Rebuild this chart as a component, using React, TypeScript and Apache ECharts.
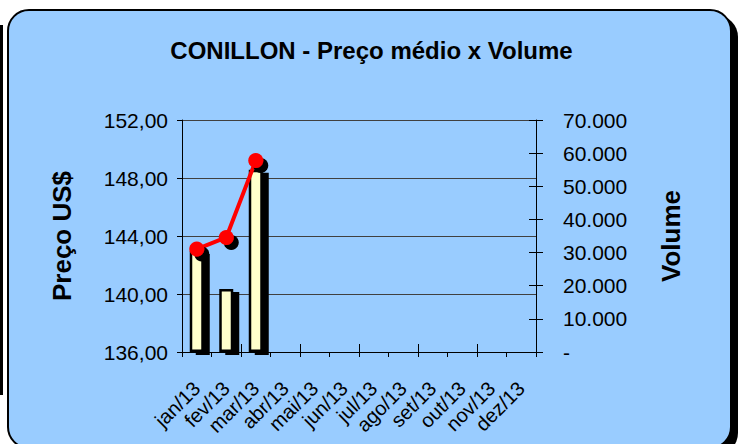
import React, { useEffect, useRef } from "react";
import * as echarts from "echarts";

const months = ["jan/13", "fev/13", "mar/13", "abr/13", "mai/13", "jun/13", "jul/13", "ago/13", "set/13", "out/13", "nov/13", "dez/13"];
const volume = [30500, 19000, 55000];
const preco = [143.1, 143.9, 149.2];
const precoTicks = { min: 136, max: 152, interval: 4 };
const volumeTicks = { min: 0, max: 70000, interval: 10000 };

const FONT = "'Liberation Sans', Arial, sans-serif";

function fmtPreco(v: number) {
  return v.toFixed(2).replace(".", ",");
}
function fmtVol(v: number) {
  if (v === 0) return "-";
  return String(Math.round(v)).replace(/\B(?=(\d{3})+(?!\d))/g, ".");
}

export default function App() {
  const ref = useRef<HTMLDivElement>(null);
  useEffect(() => {
    if (!ref.current) return;
    const chart = echarts.init(ref.current, null, { renderer: "svg" });
    chart.setOption({
      animation: false,
      backgroundColor: "transparent",
      title: {
        text: "CONILLON - Preço médio x Volume",
        left: "center",
        top: 33,
        textStyle: { fontFamily: FONT, fontSize: 24, fontWeight: "bold", color: "#000" },
      },
      grid: { left: 182, right: 207, top: 120, bottom: 92, containLabel: false },
      xAxis: [
        {
          type: "category",
          data: months,
          position: "bottom",
          boundaryGap: true,
          axisLine: { show: true, lineStyle: { color: "#000", width: 1 } },
          axisTick: { show: true, inside: false, length: 5, lineStyle: { color: "#000" } },
          axisLabel: { rotate: 45, fontFamily: FONT, fontSize: 20, color: "#000", margin: 33, interval: 0 },
          splitLine: { show: false },
        },
        {
          type: "category",
          data: months,
          position: "bottom",
          boundaryGap: true,
          axisLine: { show: false },
          axisTick: { show: true, inside: true, length: 8, lineStyle: { color: "#000" } },
          axisLabel: { show: false },
          splitLine: { show: false },
        },
      ],
      yAxis: [
        {
          type: "value",
          position: "left",
          ...precoTicks,
          name: "Preço US$",
          nameLocation: "middle",
          nameRotate: 90,
          nameGap: 107,
          nameTextStyle: { fontFamily: FONT, fontSize: 26, fontWeight: "bold", color: "#000" },
          axisLine: { show: true, lineStyle: { color: "#000", width: 1 } },
          axisTick: { show: true, inside: false, length: 5, lineStyle: { color: "#000" } },
          axisLabel: { formatter: fmtPreco, fontFamily: FONT, fontSize: 21, color: "#000", margin: 14 },
          splitLine: { show: true, lineStyle: { color: "#404040", width: 1 } },
        },
        {
          type: "value",
          position: "right",
          ...volumeTicks,
          name: "Volume",
          nameLocation: "middle",
          nameRotate: 90,
          nameGap: 122,
          nameTextStyle: { fontFamily: FONT, fontSize: 26, fontWeight: "bold", color: "#000" },
          axisLine: { show: true, lineStyle: { color: "#000", width: 1 } },
          axisTick: { show: true, inside: false, length: 7, lineStyle: { color: "#000" } },
          axisLabel: { formatter: fmtVol, fontFamily: FONT, fontSize: 21, color: "#000", margin: 27 },
          splitLine: { show: false },
        },
        {
          type: "value",
          position: "right",
          ...volumeTicks,
          axisLine: { show: false },
          axisTick: { show: true, inside: true, length: 7, lineStyle: { color: "#000" } },
          axisLabel: { show: false },
          splitLine: { show: false },
        },
      ],
      series: [
        {
          name: "Volume",
          type: "bar",
          xAxisIndex: 0,
          yAxisIndex: 1,
          data: volume,
          barWidth: 14,
          z: 2,
          itemStyle: {
            color: "#FFFFCC",
            borderColor: "#000",
            borderWidth: 2.5,
            shadowColor: "#000",
            shadowBlur: 0,
            shadowOffsetX: 6,
            shadowOffsetY: 3,
          },
        },
        {
          name: "Preço",
          type: "line",
          xAxisIndex: 0,
          yAxisIndex: 0,
          data: preco,
          z: 5,
          symbol: "circle",
          symbolSize: 15,
          lineStyle: { color: "#FF0000", width: 4 },
          itemStyle: {
            color: "#FF0000",
            shadowColor: "#000",
            shadowBlur: 0,
            shadowOffsetX: 5,
            shadowOffsetY: 5,
          },
        },
      ],
    });
    return () => chart.dispose();
  }, []);

  return (
    <div style={{ position: "absolute", left: 0, top: 0, width: 743, height: 444, background: "#fff", overflow: "hidden" }}>
      <div style={{ position: "absolute", left: 0, top: 25, width: 3, height: 370, background: "#000" }} />
      <div
        style={{
          position: "absolute",
          left: 7,
          top: 9,
          width: 725,
          height: 440,
          boxSizing: "border-box",
          border: "2.5px solid #000",
          borderRadius: 22,
          background: "#99CCFF",
          boxShadow: "6px 6px 0 #000",
        }}
      />
      <div ref={ref} style={{ position: "absolute", left: 0, top: 0, width: 743, height: 444 }} />
    </div>
  );
}
